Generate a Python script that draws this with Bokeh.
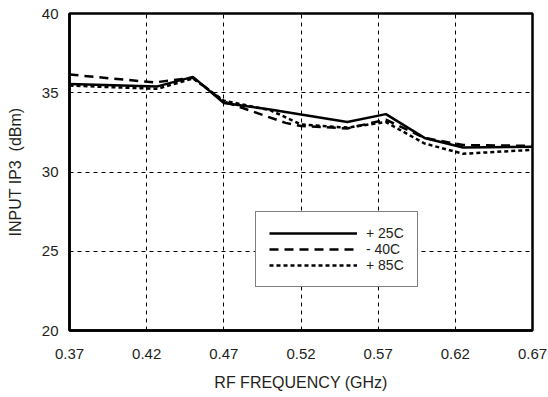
from bokeh.plotting import figure
from bokeh.models import Range1d, FixedTicker, Legend, LegendItem
from bokeh.embed import file_html
from bokeh.resources import INLINE

# Data
freq_25 = [0.37, 0.427, 0.45, 0.47, 0.50, 0.55, 0.575, 0.60, 0.625, 0.67]
ip3_25 = [35.55, 35.4, 36.0, 34.35, 33.95, 33.15, 33.65, 32.15, 31.55, 31.6]

freq_m40 = [0.37, 0.425, 0.45, 0.47, 0.51, 0.52, 0.55, 0.575, 0.60, 0.625, 0.67]
ip3_m40 = [36.15, 35.65, 35.95, 34.45, 33.1, 32.9, 32.75, 33.3, 32.15, 31.7, 31.65]

freq_85 = [0.37, 0.427, 0.45, 0.47, 0.50, 0.52, 0.55, 0.575, 0.60, 0.625, 0.67]
ip3_85 = [35.45, 35.25, 35.9, 34.5, 33.9, 33.0, 32.8, 33.15, 31.8, 31.15, 31.4]

x_ticks = [0.37, 0.42, 0.47, 0.52, 0.57, 0.62, 0.67]
y_ticks = [20, 25, 30, 35, 40]
labels = ["+ 25C", "- 40C", "+ 85C"]

FONT = "Liberation Sans"
TXT = "#231f20"

p = figure(width=548, height=397, output_backend="svg", toolbar_location=None,
           x_range=Range1d(0.37, 0.67), y_range=Range1d(20, 40),
           min_border_left=69, min_border_right=16, min_border_top=13,
           min_border_bottom=67)
p.background_fill_color = "white"
p.border_fill_color = "white"
p.outline_line_color = "black"
p.outline_line_width = 2.5

for ax in (p.xaxis[0], p.yaxis[0]):
    ax.axis_line_width = 2.5
    ax.axis_line_color = "black"
    ax.major_tick_in = 0
    ax.major_tick_out = 0
    ax.minor_tick_in = 0
    ax.minor_tick_out = 0
    ax.major_label_text_font = FONT
    ax.major_label_text_font_size = "15px"
    ax.major_label_text_color = TXT
    ax.axis_label_text_font = FONT
    ax.axis_label_text_font_size = "16px"
    ax.axis_label_text_font_style = "normal"
    ax.axis_label_text_color = TXT

p.xaxis.ticker = FixedTicker(ticks=x_ticks)
p.xaxis.major_label_overrides = {t: f"{t:.2f}" for t in x_ticks}
p.yaxis.ticker = FixedTicker(ticks=y_ticks)
p.xaxis.axis_label = "RF FREQUENCY (GHz)"
p.yaxis.axis_label = "INPUT IP3\u00a0 (dBm)"
p.xaxis.major_label_standoff = 18
p.xaxis.axis_label_standoff = 12
p.yaxis.major_label_standoff = 11
p.yaxis.axis_label_standoff = 15

p.xgrid.ticker = FixedTicker(ticks=x_ticks[1:-1])
p.ygrid.ticker = FixedTicker(ticks=y_ticks[1:-1])
for g in (p.xgrid[0], p.ygrid[0]):
    g.grid_line_color = "black"
    g.grid_line_width = 1
    g.grid_line_dash = "4 4"

r1 = p.line(freq_25, ip3_25, line_color="black", line_width=2.5)
r2 = p.line(freq_m40, ip3_m40, line_color="black", line_width=2.5, line_dash="9 6")
r3 = p.line(freq_85, ip3_85, line_color="black", line_width=2.5, line_dash="4 3")

legend = Legend(items=[LegendItem(label=labels[0], renderers=[r1]),
                       LegendItem(label=labels[1], renderers=[r2]),
                       LegendItem(label=labels[2], renderers=[r3])],
                location=(186, 43))
legend.border_line_color = "black"
legend.border_line_width = 1.2
legend.background_fill_color = "white"
legend.background_fill_alpha = 1
legend.padding = 13
legend.margin = 0
legend.spacing = 0
legend.glyph_width = 88
legend.glyph_height = 14
legend.label_height = 14
legend.label_standoff = 9
legend.label_text_font = FONT
legend.label_text_font_size = "14px"
legend.label_text_color = TXT
legend.label_text_line_height = 0.8
p.add_layout(legend, "center")

open("out.html", "w").write(file_html(p, INLINE))
